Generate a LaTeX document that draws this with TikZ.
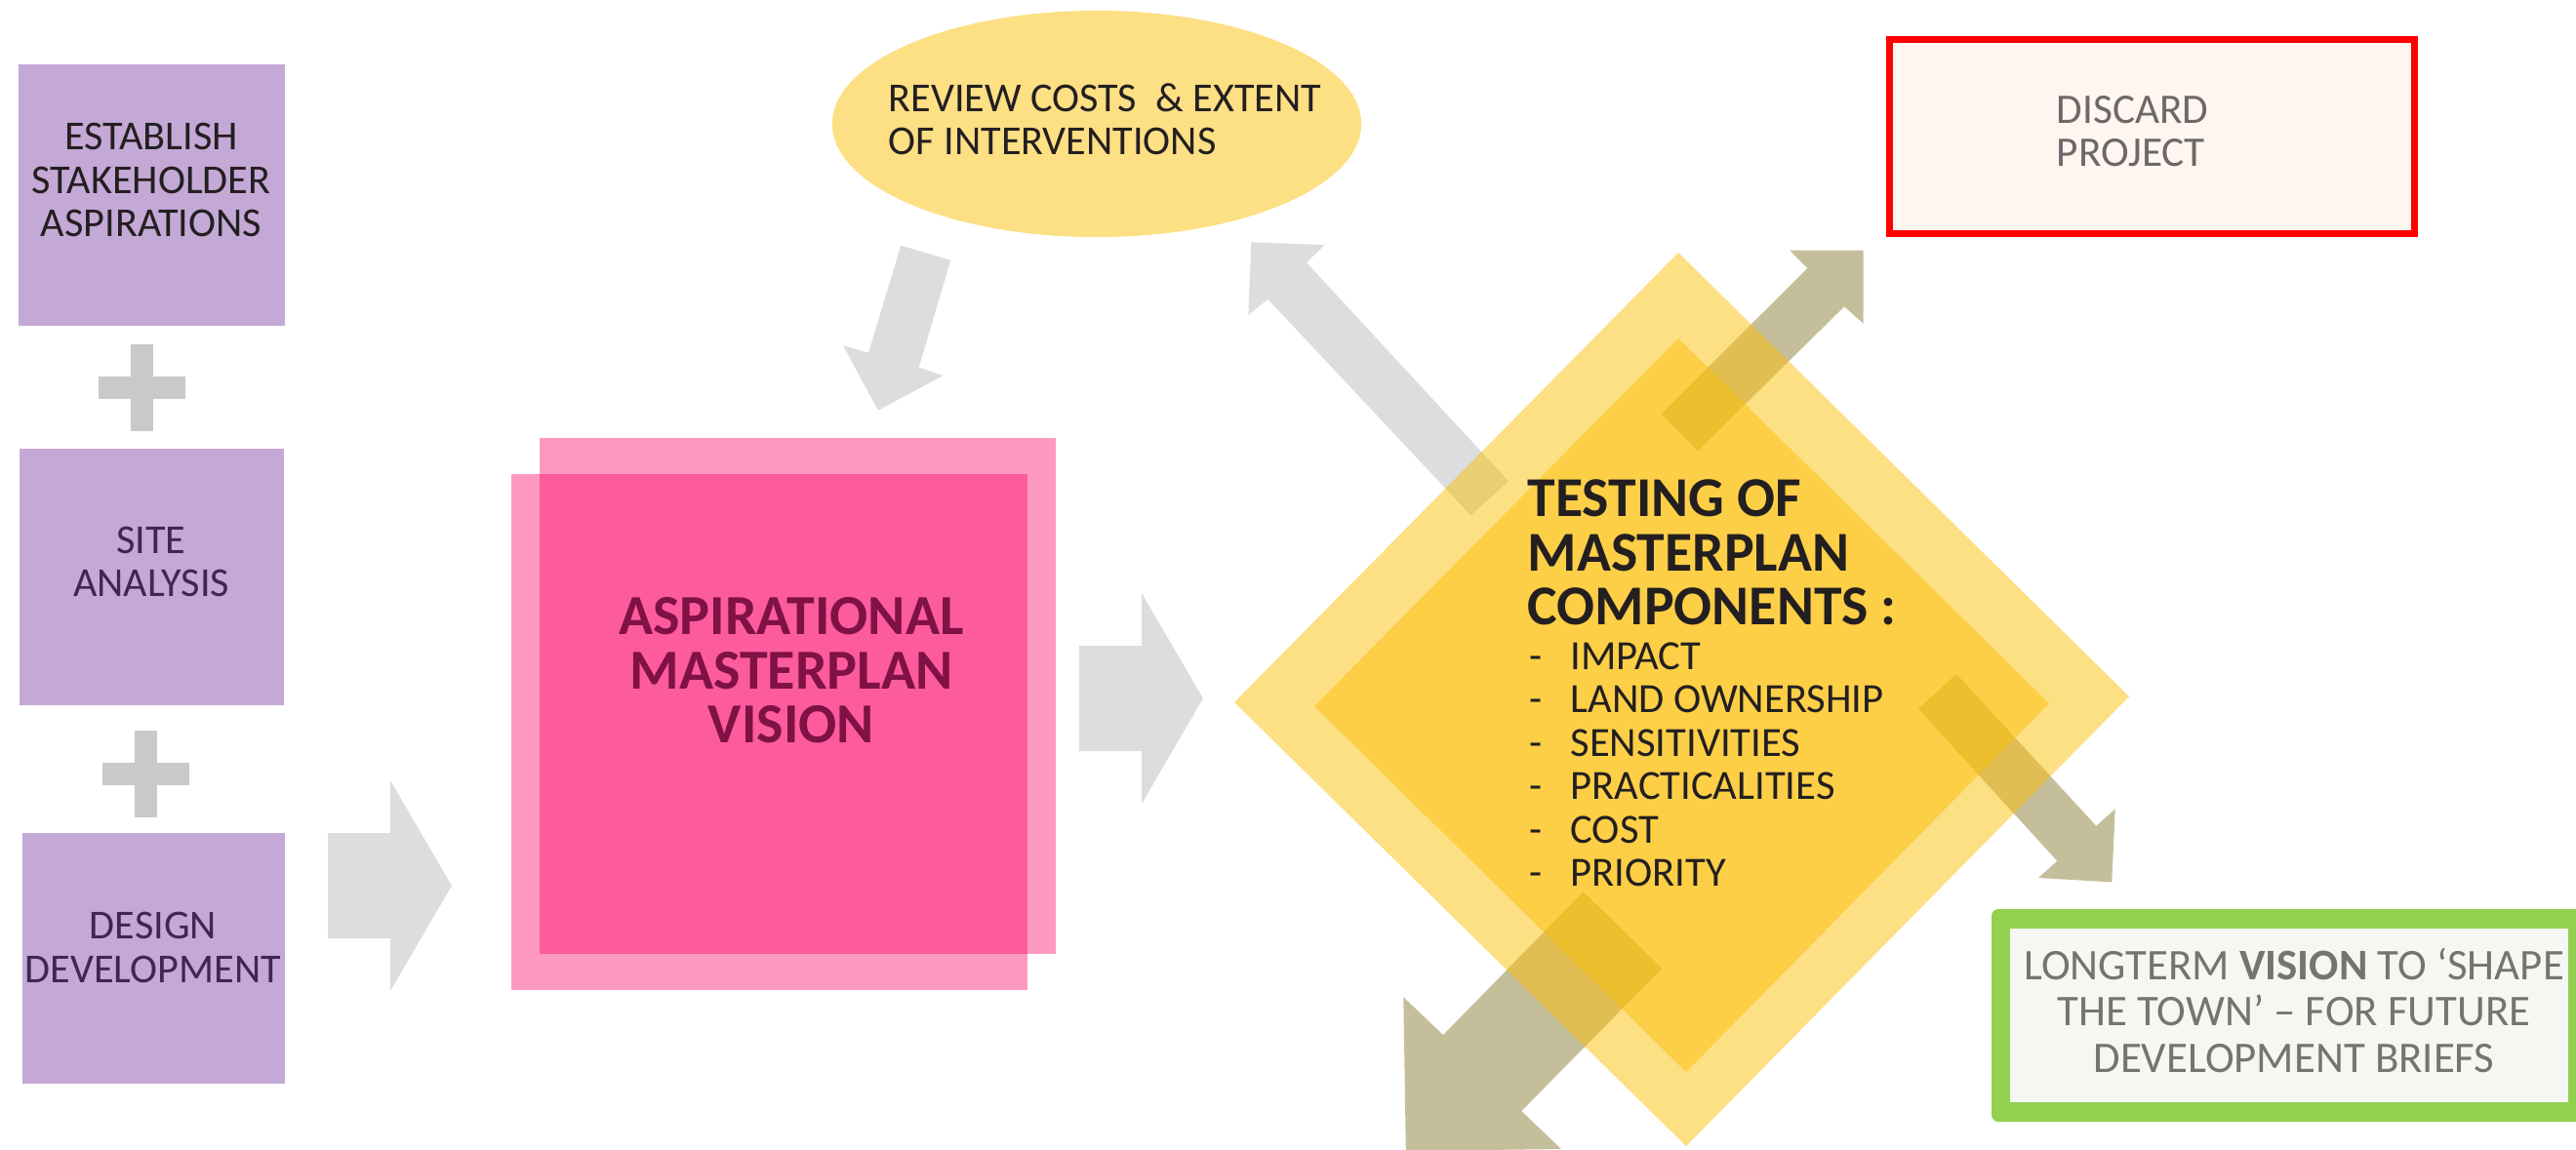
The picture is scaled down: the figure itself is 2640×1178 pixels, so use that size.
\documentclass[tikz,border=0pt]{standalone}
\usepackage{fontspec}
\setmainfont{Carlito}
\usetikzlibrary{shapes.geometric}

\definecolor{lilac}{RGB}{196,169,215}
\definecolor{plusgray}{RGB}{200,201,203}
\definecolor{arrowgray}{RGB}{220,221,223}
\definecolor{arrowolive}{RGB}{197,190,154}
\definecolor{pinkbase}{RGB}{250,0,100}
\definecolor{pinktext}{RGB}{127,17,70}
\definecolor{sunny}{RGB}{251,191,10}
\definecolor{paleyellow}{RGB}{253,223,132}
\definecolor{darktext}{RGB}{35,31,32}
\definecolor{plumtext}{RGB}{64,38,84}
\definecolor{discardfill}{RGB}{255,246,240}
\definecolor{discardtext}{RGB}{110,104,104}
\definecolor{visiongreen}{RGB}{146,208,80}
\definecolor{visionfill}{RGB}{245,248,242}
\definecolor{visiontext}{RGB}{118,117,108}

\tikzset{
  inputtext/.style={align=center, inner sep=0pt, text=plumtext,
    font=\fontsize{12pt}{12.7pt}\selectfont},
  bigtitle/.style={align=center, inner sep=0pt,
    font=\fontsize{16.5pt}{15.8pt}\selectfont\bfseries},
  plaintext/.style={align=left, anchor=west, inner sep=0pt, text=darktext,
    font=\fontsize{12pt}{12.4pt}\selectfont},
  listitem/.style={anchor=west, inner sep=0pt, text=darktext,
    text height=7.7pt, text depth=0pt, font=\fontsize{12.1pt}{12.7pt}\selectfont},
}

\begin{document}
\begin{tikzpicture}[x=0.01cm, y=-0.01cm]
\useasboundingbox (0,0) rectangle (2640,1178);
\clip (0,0) rectangle (2640,1178);

% the three inputs
\fill[lilac] (19,66) rectangle (292,334);
\fill[lilac] (20,460) rectangle (291,723);
\fill[lilac] (23,854) rectangle (292,1111);
\node[inputtext, text=darktext] (aspirations) at (155,184.5) {ESTABLISH\\STAKEHOLDER\\ASPIRATIONS};
\node[inputtext] (site) at (155,576) {SITE\\ANALYSIS};
\node[inputtext] (design) at (157,971.5) {DESIGN\\DEVELOPMENT};
\foreach \x/\y in {145.5/397, 149.5/793.5}{
  \fill[plusgray] (\x-11.5,\y-44.5) rectangle (\x+11.5,\y+44.5);
  \fill[plusgray] (\x-44.5,\y-11.5) rectangle (\x+44.5,\y+11.5);
}

% grey block arrows
\foreach \x/\y in {336/908, 1106/716}
  \fill[arrowgray] (\x,\y-54) -- (\x+64,\y-54) -- (\x+64,\y-108) -- (\x+127,\y)
    -- (\x+64,\y+108) -- (\x+64,\y+54) -- (\x,\y+54) -- cycle;
\fill[arrowgray] (923.3,251.7) -- (974.3,266.7) -- (941.7,376.7) -- (966.7,385)
  -- (900,420.7) -- (864,354.3) -- (890,361.7) -- cycle;

% vision squares
\fill[pinkbase, opacity=0.4] (553,449) rectangle (1082,978);
\fill[pinkbase, opacity=0.4] (524,486) rectangle (1053,1015);
\node[bigtitle, text=pinktext] (vision) at (811,687.5) {ASPIRATIONAL\\MASTERPLAN\\VISION};

% review
\node[ellipse, fill=paleyellow, minimum width=5.42cm, minimum height=2.32cm, inner sep=0pt] (review) at (1124,127) {};
\node[plaintext] (reviewtext) at (910,122.5) {REVIEW COSTS\ \ \&~EXTENT\\OF INTERVENTIONS};

% discard
\node[draw=red, line width=0.07cm, fill=discardfill, minimum width=5.38cm, minimum height=1.985cm, inner sep=0pt] (discard) at (2205.5,140.25) {};
\node[plaintext, text=discardtext, font=\fontsize{12.3pt}{12.3pt}\selectfont] (discardtext) at (2107,134.5) {DISCARD\\PROJECT};

% arrows out of the testing
\fill[arrowgray] (1282.3,248.3) -- (1357.7,251) -- (1339,269.3) -- (1546,493.3)
  -- (1507.3,528.3) -- (1299.3,306.7) -- (1279.3,323.3) -- cycle;
\fill[arrowolive] (1909.7,256.7) -- (1834.3,256.7) -- (1852.3,275) -- (1702.7,424.3)
  -- (1740,462.3) -- (1890,314.3) -- (1909.7,331.7) -- cycle;
\fill[arrowolive] (2164.3,904.3) -- (2089,900) -- (2108.3,882.7) -- (1966,726.7)
  -- (2005,691) -- (2148.3,846.7) -- (2167.7,829.3) -- cycle;
\fill[arrowolive] (1440.8,1180) -- (1438.3,1022.3) -- (1479,1061) -- (1622.7,914.3)
  -- (1703.3,992.7) -- (1559.3,1139) -- (1600,1178) -- cycle;

% testing diamond
\fill[sunny, opacity=0.5] (1720,259) -- (2182,714) -- (1728,1175) -- (1265,720) -- cycle;
\fill[sunny, opacity=0.5] (1720,347) -- (2100,721) -- (1728,1099) -- (1347,724) -- cycle;
\node[bigtitle, align=left, anchor=west, text=darktext, font=\fontsize{16.4pt}{15.8pt}\selectfont\bfseries] (testing) at (1565,566.5) {TESTING OF\\MASTERPLAN\\COMPONENTS :};
\foreach \comp [count=\i] in {IMPACT, LAND OWNERSHIP, SENSITIVITIES, PRACTICALITIES, COST, PRIORITY}
  \node[listitem] (comp\i) at (1567,{672.5+44.5*(\i-1)}) {\makebox[11.9pt][l]{-}\comp};

% long term vision
\fill[visiongreen, rounded corners=0.07cm] (2041,932) rectangle (2700,1150);
\fill[visionfill] (2060,952) rectangle (2632,1130);
\node[inputtext, text=visiontext, font=\fontsize{12.75pt}{13.5pt}\selectfont] (longterm) at (2351,1035.5) {LONGTERM \textbf{VISION} TO ‘SHAPE\\THE TOWN’ – FOR FUTURE\\DEVELOPMENT BRIEFS};
\end{tikzpicture}
\end{document}
